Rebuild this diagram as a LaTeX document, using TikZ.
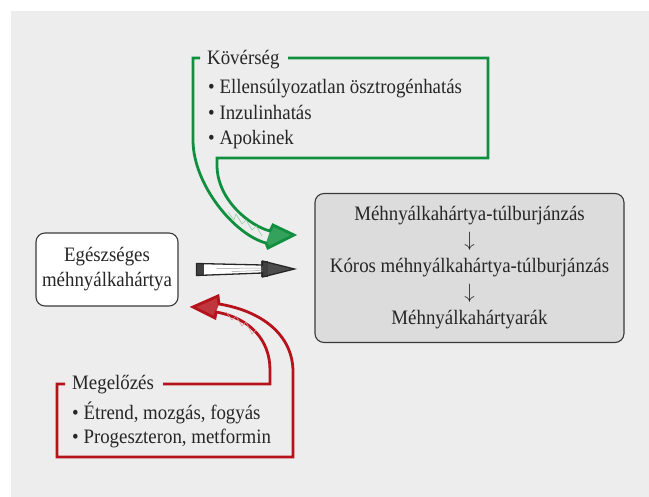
\documentclass[tikz,border=0pt]{standalone}
\usepackage{fontspec}
\setmainfont{Liberation Serif}[FakeStretch=0.92]
\usetikzlibrary{calc}
\definecolor{bg}{HTML}{EDEDED}
\definecolor{boxgray}{HTML}{DCDCDC}
\definecolor{grn}{HTML}{10903F}
\definecolor{rd}{HTML}{B5121B}
\definecolor{edge}{HTML}{3A3A3A}
\newcommand{\tallarrow}{$\downarrow$}
\begin{document}
\begin{tikzpicture}[x=1pt,y=-1pt,
  txt/.style={font=\fontsize{20.5}{26}\selectfont, inner sep=0pt, anchor=base west, text=black!85},
  roundbox/.style={draw=edge, line width=1.1pt, rounded corners=9pt, font=\fontsize{20.5}{26}\selectfont, align=center, inner sep=0pt, text=black!85},
  bracket/.style={line width=2.8pt, line join=miter},
  headfill/.style={fill=#1!85},
]
\useasboundingbox (0,0) rectangle (649,497);
\fill[bg] (11,11) rectangle (649,497);

% boxes
\node[roundbox, fill=white, minimum width=142pt, minimum height=73pt] (egesz) at (107,269.5) {Egészséges\\[-1pt]méhnyálkahártya};
\node[roundbox, fill=boxgray, minimum width=309pt, minimum height=149pt] (mb) at (469.5,268)
  {Méhnyálkahártya-túlburjánzás\\\tallarrow\\Kóros méhnyálkahártya-túlburjánzás\\\tallarrow\\Méhnyálkahártyarák};

% texts
\node[txt] (kov) at (207,65) {Kövérség};
\node[txt] (k1) at (208,94) {• Ellensúlyozatlan ösztrogénhatás};
\node[txt] (k2) at (208,120) {• Inzulinhatás};
\node[txt] (k3) at (208,145) {• Apokinek};
\node[txt] (meg) at (72,390) {Megelőzés};
\node[txt] (m1) at (72,420) {• Étrend, mozgás, fogyás};
\node[txt] (m2) at (72,444) {• Progeszteron, metformin};

% green bracket arrow
\fill[headfill=grn] (266,243) -- (268,248) -- (294,235) -- (273,225) -- (270,231) -- cycle;
\draw[bracket, draw=grn] (200,58) -- (193,58) -- (193,140)
  .. controls (193,185) and (235,235) .. (266,243)
  -- (268,248) -- (294,235) -- (273,225) -- (270,231)
  .. controls (250,226) and (217,200) .. (217,165)
  -- (217,158) -- (488,158) -- (488,58) -- (288,58);
\draw[grn!45, line width=0.6pt] (228,212) -- (234,220) -- (236,214) -- (242,224) -- (246,220) -- (252,230) -- (256,226) -- (262,236);

% red bracket arrow
\fill[headfill=rd] (219,304) -- (218,296) -- (193,307) -- (215,318) -- (216,312) -- cycle;
\draw[bracket, draw=rd] (65,384) -- (57,384) -- (57,457) -- (293,457) -- (293,372)
  .. controls (293,335) and (262,311) .. (219,304)
  -- (218,296) -- (193,307) -- (215,318) -- (216,312)
  .. controls (250,318) and (270,340) .. (270,370)
  -- (270,384) -- (163,384);
\draw[rd!45, line width=0.6pt] (226,312) -- (232,320) -- (236,316) -- (242,326) -- (246,322) -- (252,334) -- (256,330);

% black sketch arrow
\coordinate (ba) at ($(egesz.east)+(18,0)$);
\coordinate (bt) at ($(mb.west)+(-20,1)$);
\fill[white] ($(ba)+(0,-6)$) -- ($(bt)+(-30,-4)$) -- ($(bt)+(-30,4)$) -- ($(ba)+(0,6)$) -- cycle;
\fill[black!70] ($(bt)+(-32,-8)$) -- (bt) -- ($(bt)+(-32,8)$) -- cycle;
\fill[black!75] ($(ba)+(0,-6)$) rectangle ($(ba)+(7,6)$);
\fill[black!75] ($(bt)+(-33,-8)$) rectangle ($(bt)+(-26,8)$);
\draw[black!40, line width=0.5pt] ($(ba)+(20,-1)$) -- ($(bt)+(-32,-1)$);
\draw[black!40, line width=0.5pt] ($(ba)+(35,2)$) -- ($(bt)+(-32,1.5)$);
\draw[black!85, line width=1.3pt, line join=miter]
  ($(ba)+(0,-6)$) -- ($(bt)+(-32,-4)$) -- ($(bt)+(-32,-8)$) -- (bt)
  -- ($(bt)+(-32,8)$) -- ($(bt)+(-32,4)$) -- ($(ba)+(0,6)$) -- cycle;
\end{tikzpicture}
\end{document}
